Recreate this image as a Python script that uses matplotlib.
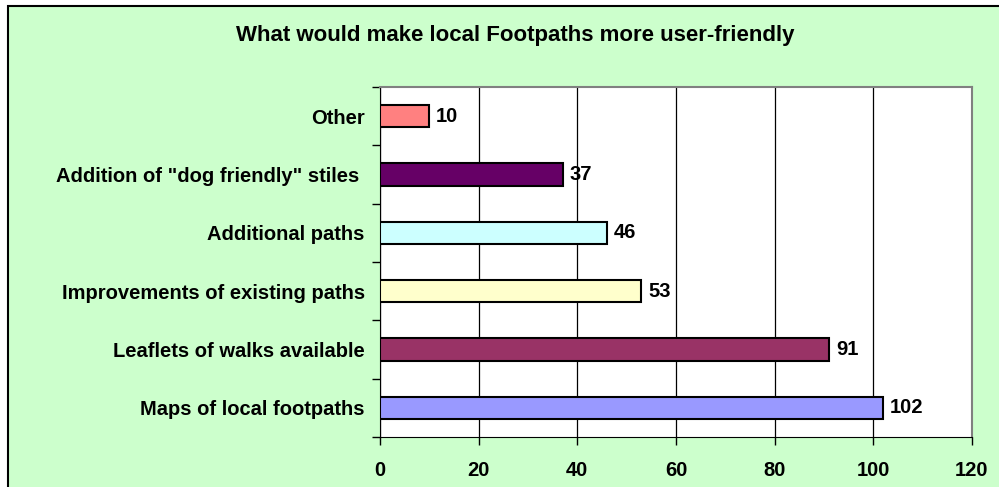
import matplotlib
matplotlib.use('Agg')
import matplotlib.pyplot as plt
from matplotlib.patches import Rectangle

# datos del grafico
categorias = ['Maps of local footpaths', 'Leaflets of walks available',
              'Improvements of existing paths', 'Additional paths',
              'Addition of "dog friendly" stiles ', 'Other']
valores = [102, 91, 53, 46, 37, 10]
colores = ['#9999FF', '#993366', '#FFFFCC', '#CCFFFF', '#660066', '#FF8080']
ticks_x = [0, 20, 40, 60, 80, 100, 120]

plt.rcParams['font.family'] = ['Liberation Sans', 'DejaVu Sans']
plt.rcParams['font.weight'] = 'bold'

W, H = 999, 487
fig = plt.figure(figsize=(W / 100, H / 100), dpi=100)
fig.patch.set_facecolor('white')

# marco verde de fondo (se sale por la derecha y por abajo)
fondo = Rectangle((8 / W, -0.1), 1.2, 1.1 - 6 / H, transform=fig.transFigure,
                  facecolor='#CCFFCC', edgecolor='black', linewidth=1.5, zorder=-10)
fig.add_artist(fondo)

ax = fig.add_axes([380 / W, 1 - 437 / H, (972 - 380) / W, (437 - 87) / H])
ax.set_facecolor('white')

pos = list(range(len(categorias)))
ax.barh(pos, valores, height=0.38, color=colores, edgecolor='black',
        linewidth=1.5, zorder=3)

for p, v in zip(pos, valores):
    ax.text(v + 1.4, p, str(v), va='center', ha='left', fontsize=14.5,
            fontweight='bold', zorder=4)

ax.set_xlim(0, 120)
ax.set_ylim(-0.5, len(categorias) - 0.5)
ax.set_xticks(ticks_x)
ax.set_xticklabels([str(t) for t in ticks_x], fontsize=14.5, fontweight='bold')
ax.xaxis.grid(True, color='black', linewidth=0.9, zorder=1)
ax.set_axisbelow(True)

# etiquetas de categorias y marcas entre barras
ax.set_yticks(pos)
ax.set_yticklabels(categorias, fontsize=14.5, fontweight='bold')
ax.tick_params(axis='y', length=0, pad=11)
ax.set_yticks([p + 0.5 for p in pos] + [-0.5], minor=True)
ax.tick_params(axis='y', which='minor', length=6, width=1, color='black')
ax.tick_params(axis='x', length=6, width=1, pad=11)

for s in ['top', 'right']:
    ax.spines[s].set_color('#808080')
    ax.spines[s].set_linewidth(1.5)
ax.spines['left'].set_color('black')
ax.spines['bottom'].set_color('black')

fig.text(515 / W, 1 - 36 / H, 'What would make local Footpaths more user-friendly',
         ha='center', va='center', fontsize=16, fontweight='bold')

fig.savefig('out.png', dpi=100)
